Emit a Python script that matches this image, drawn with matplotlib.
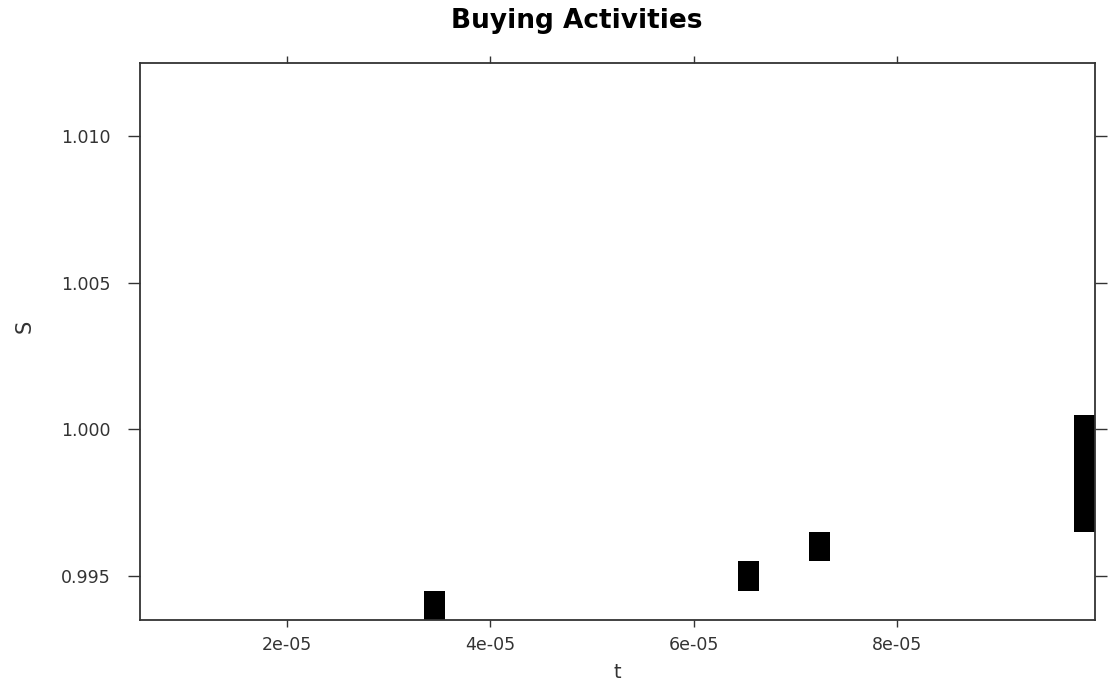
import matplotlib
matplotlib.use("Agg")
import matplotlib.pyplot as plt

# buying activity cells (time, price level)
t_buy = [3.45e-05, 6.54e-05, 7.24e-05, 9.85e-05, 9.85e-05, 9.85e-05, 9.85e-05]
s_buy = [0.994, 0.995, 0.996, 0.997, 0.998, 0.999, 1.000]
cell_dt = 2.1e-06
cell_ds = 0.001

x_ticks = [2e-05, 4e-05, 6e-05, 8e-05]
x_labels = ["2e-05", "4e-05", "6e-05", "8e-05"]
y_ticks = [0.995, 1.000, 1.005, 1.010]
y_labels = ["0.995", "1.000", "1.005", "1.010"]

plt.rcParams['font.family'] = ['DejaVu Sans']
text_col = '#333333'
line_col = '#333333'

fig = plt.figure(figsize=(11.1, 6.88), dpi=100)
ax = fig.add_axes([0.1261, 0.0988, 0.8604, 0.8096])

bottoms = [s - cell_ds / 2 for s in s_buy]
ax.bar(t_buy, [cell_ds] * len(s_buy), bottom=bottoms, width=cell_dt,
       color='black', edgecolor='none', align='center')

ax.set_xlim(5.5e-06, 9.95e-05)
ax.set_ylim(0.9935, 1.0125)

ax.set_xticks(x_ticks)
ax.set_xticklabels(x_labels)
ax.set_yticks(y_ticks)
ax.set_yticklabels(y_labels)

ax.tick_params(axis='x', which='both', direction='out', length=4.8, width=1.0,
               top=True, bottom=True, labeltop=False, colors=line_col,
               labelcolor=text_col, labelsize=12.5, pad=7)
ax.tick_params(axis='y', which='both', direction='out', length=8.8, width=1.0,
               left=True, right=True, labelright=False, colors=line_col,
               labelcolor=text_col, labelsize=12.5, pad=12)

for spine in ax.spines.values():
    spine.set_color(line_col)
    spine.set_linewidth(1.3)

ax.set_xlabel("t", fontsize=14, color=text_col, labelpad=6)
ax.set_ylabel("S", fontsize=15, color=text_col, labelpad=0)
ax.yaxis.set_label_coords(-0.11, 0.528)

fig.text(0.52, 0.97, "Buying Activities", ha='center', va='center',
         fontsize=19, fontweight='bold', color='black')

fig.savefig("out.png", dpi=100, facecolor='white')
